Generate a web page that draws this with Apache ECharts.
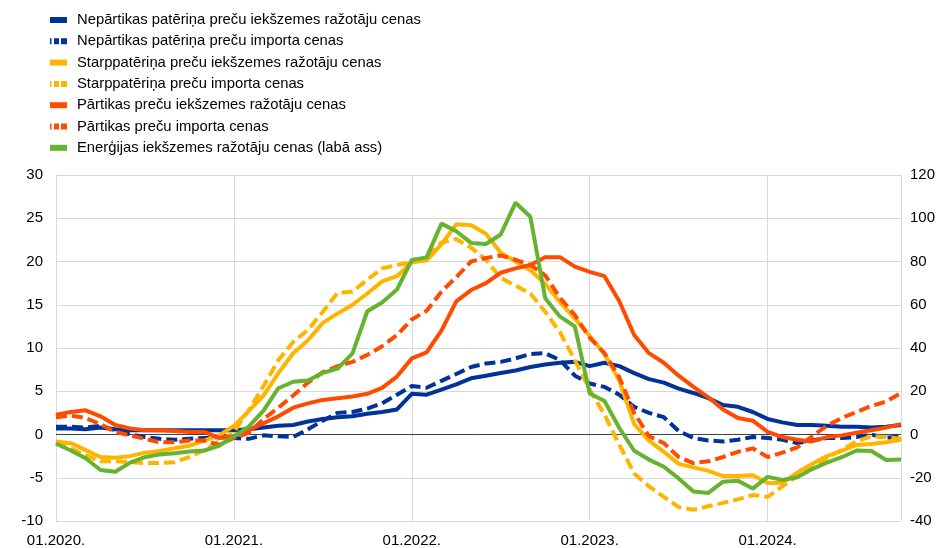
<!DOCTYPE html>
<html>
<head>
<meta charset="utf-8">
<script src="https://cdn.jsdelivr.net/npm/echarts@6/dist/echarts.min.js"></script>
<style>
  html, body { margin: 0; padding: 0; background: #fff; }
  #chart { width: 943px; height: 548px; }
</style>
</head>
<body>
<div id="chart"></div>
<script>
// months 01.2020. .. 10.2024.
const months = [];
for (let y = 2020; y <= 2024; y++) {
  for (let m = 1; m <= 12; m++) {
    if (y === 2024 && m > 10) break;
    months.push(String(m).padStart(2, "0") + "." + y + ".");
  }
}

const leftTicks = { min: -10, max: 30, interval: 5 };
const rightTicks = { min: -40, max: 120, interval: 20 };

// left axis, %
const nonFoodDomestic = [
  0.7, 0.7, 0.6, 0.8, 0.6, 0.5, 0.5, 0.5, 0.5, 0.5, 0.5, 0.5,
  0.5, 0.6, 0.8, 1.0, 1.1, 1.5, 1.8, 2.0, 2.1, 2.4, 2.6, 2.9,
  4.7, 4.6, 5.2, 5.8, 6.5, 6.8, 7.1, 7.4, 7.8, 8.1, 8.3, 8.4,
  7.9, 8.3, 7.9, 7.1, 6.4, 6.0, 5.3, 4.8, 4.2, 3.4, 3.2, 2.6,
  1.8, 1.4, 1.1, 1.1, 1.0, 0.9, 0.9, 0.8, 0.9, 1.1
];
const nonFoodImport = [
  0.9, 0.9, 0.8, 1.0, 0.5, 0.0, -0.3, -0.5, -0.6, -0.5, -0.4, -0.3,
  -0.4, -0.5, -0.1, -0.2, -0.3, 0.6, 1.6, 2.5, 2.6, 3.0, 3.6, 4.6,
  5.6, 5.4, 6.2, 7.0, 7.8, 8.2, 8.4, 8.8, 9.3, 9.4, 8.6, 6.8,
  5.9, 5.5, 4.6, 3.2, 2.5, 2.0, 0.4, -0.4, -0.7, -0.8, -0.6, -0.3,
  -0.4, -0.6, -1.0, -0.7, -0.4, -0.4, -0.3, 0.0, -0.4, -0.2
];
const intermDomestic = [
  -0.8, -1.0, -1.8, -2.6, -2.7, -2.5, -2.1, -1.9, -1.6, -1.3, -0.7, -0.1,
  1.0, 2.7, 4.5, 7.1, 9.4, 10.9, 12.9, 14.0, 15.0, 16.3, 17.7, 18.3,
  19.9, 20.1, 22.0, 24.3, 24.2, 23.2, 21.0, 20.0, 19.0, 17.4, 15.3, 13.4,
  11.4, 9.3, 6.2, 1.2, -0.7, -2.0, -3.4, -3.8, -4.2, -4.8, -4.8, -4.7,
  -5.6, -5.6, -4.4, -3.4, -2.5, -1.9, -1.2, -1.1, -0.9, -0.6
];
const intermImport = [
  -0.9, -1.6, -2.4, -3.1, -3.1, -3.2, -3.3, -3.3, -3.2, -2.6, -1.8, -0.8,
  0.3, 2.8, 5.6, 8.6, 10.7, 12.1, 14.2, 16.4, 16.5, 17.9, 19.2, 19.6,
  19.9, 20.5, 22.2, 22.6, 21.6, 20.2, 18.1, 17.2, 16.3, 14.2, 11.8, 8.6,
  5.2, 2.3, -1.2, -4.5, -6.0, -7.2, -8.4, -8.7, -8.3, -7.9, -7.5, -7.0,
  -7.2, -6.0, -4.8, -3.7, -2.7, -1.8, -0.8, -0.2, -0.3, -0.5
];
const foodDomestic = [
  2.3, 2.6, 2.8, 2.1, 1.1, 0.7, 0.5, 0.5, 0.4, 0.3, 0.3, -0.4,
  -0.2, 0.5, 1.3, 2.1, 3.1, 3.6, 4.0, 4.2, 4.4, 4.7, 5.4, 6.7,
  8.8, 9.5, 12.0, 15.4, 16.7, 17.5, 18.7, 19.2, 19.6, 20.5, 20.5, 19.4,
  18.8, 18.3, 15.4, 11.5, 9.4, 8.3, 6.8, 5.5, 4.3, 2.9, 1.9, 1.6,
  0.3, -0.3, -0.6, -0.8, -0.3, -0.1, 0.2, 0.5, 0.8, 1.2
];
const foodImport = [
  2.0, 2.2, 1.9, 1.2, 0.3, -0.1, -0.5, -0.9, -0.9, -0.7, -0.7, -1.2,
  -0.4, 0.2, 1.8, 3.1, 4.5, 6.0, 7.2, 7.9, 8.4, 9.2, 10.2, 11.5,
  13.3, 14.3, 16.5, 18.2, 20.0, 20.4, 20.7, 20.2, 19.6, 18.4, 15.8, 13.8,
  11.2, 9.4, 6.6, 2.5, -0.2, -1.0, -2.6, -3.3, -3.1, -2.6, -2.0, -1.6,
  -2.6, -2.1, -1.5, -0.2, 1.0, 1.9, 2.6, 3.3, 3.8, 4.8
];
// right axis, %
const energyDomestic = [
  -4.3, -7.4, -11.0, -16.4, -17.2, -13.0, -10.5, -9.2, -8.7, -7.9, -7.4, -5.2,
  -0.8, 3.6, 11.0, 21.4, 24.4, 25.0, 28.5, 30.5, 37.5, 57.0, 61.0, 67.0,
  80.7, 81.9, 97.5, 94.0, 88.6, 88.1, 92.5, 107.2, 100.7, 63.0, 54.5, 50.0,
  19.0, 15.5, 3.0, -7.5, -11.6, -14.9, -20.3, -26.4, -27.0, -21.8, -21.4, -25.0,
  -19.6, -21.0, -19.8, -16.0, -13.0, -10.5, -7.4, -7.6, -11.8, -11.6
];

const BLUE = "#003299";
const YELLOW = "#ffb400";
const ORANGE = "#ff4b00";
const GREEN = "#65b32e";

const SOLID_ICON = "path://M0,0h17v6h-17z";
const DASH_ICON = "path://M0,0h1.5v6h-1.5z M4,0h5v6h-5z M11,0h6v6h-6z";

const seriesDefs = [
  { name: "Nepārtikas patēriņa preču iekšzemes ražotāju cenas", data: nonFoodDomestic, color: BLUE, dashed: false, axis: 0 },
  { name: "Nepārtikas patēriņa preču importa cenas", data: nonFoodImport, color: BLUE, dashed: true, axis: 0 },
  { name: "Starppatēriņa preču iekšzemes ražotāju cenas", data: intermDomestic, color: YELLOW, dashed: false, axis: 0 },
  { name: "Starppatēriņa preču importa cenas", data: intermImport, color: YELLOW, dashed: true, axis: 0 },
  { name: "Pārtikas preču iekšzemes ražotāju cenas", data: foodDomestic, color: ORANGE, dashed: false, axis: 0 },
  { name: "Pārtikas preču importa cenas", data: foodImport, color: ORANGE, dashed: true, axis: 0 },
  { name: "Enerģijas iekšzemes ražotāju cenas (labā ass)", data: energyDomestic, color: GREEN, dashed: false, axis: 1 }
];

const FONT = "Liberation Sans, Arial, sans-serif";
const gridLine = { show: true, lineStyle: { color: "#d9d9d9", width: 1 } };

const chart = echarts.init(document.getElementById("chart"), null, { renderer: "canvas" });

chart.setOption({
  animation: false,
  backgroundColor: "#fff",
  textStyle: { fontFamily: FONT },
  legend: {
    orient: "vertical",
    left: 50,
    top: 12,
    padding: 0,
    itemWidth: 17,
    itemHeight: 6,
    itemGap: 5.3,
    selectedMode: false,
    textStyle: { fontFamily: FONT, fontSize: 14.8, color: "#000", lineHeight: 16, padding: [0, 0, 0, 5] },
    data: seriesDefs.map((s) => ({
      name: s.name,
      icon: s.dashed ? DASH_ICON : SOLID_ICON,
      itemStyle: { color: s.color }
    }))
  },
  grid: { left: 56, right: 42, top: 175, bottom: 27, outerBoundsMode: "none" },
  xAxis: {
    type: "category",
    data: months,
    boundaryGap: false,
    axisLine: { show: false, onZero: false },
    axisTick: { show: false },
    axisLabel: { interval: 11, color: "#000", fontSize: 15, fontFamily: FONT, margin: 12 },
    splitLine: { show: true, interval: 11, lineStyle: { color: "#d9d9d9", width: 1 } }
  },
  yAxis: [
    {
      type: "value",
      position: "left",
      ...leftTicks,
      axisLine: { show: true, lineStyle: { color: "#d9d9d9" } },
      axisTick: { show: false },
      axisLabel: { color: "#000", fontSize: 15, fontFamily: FONT, margin: 13 },
      splitLine: gridLine
    },
    {
      type: "value",
      position: "right",
      ...rightTicks,
      axisLine: { show: true, lineStyle: { color: "#d9d9d9" } },
      axisTick: { show: false },
      axisLabel: { color: "#000", fontSize: 15, fontFamily: FONT, margin: 9 },
      splitLine: { show: false }
    }
  ],
  series: seriesDefs.map((s, i) => {
    const item = {
      name: s.name,
      type: "line",
      yAxisIndex: s.axis,
      data: s.data,
      symbol: "none",
      smooth: false,
      color: s.color,
      lineStyle: { color: s.color, width: 4, type: s.dashed ? [11, 5] : "solid" },
      emphasis: { disabled: true }
    };
    if (i === 0) {
      item.markLine = {
        silent: true,
        symbol: "none",
        label: { show: false },
        lineStyle: { color: "#404040", width: 1, type: "solid" },
        data: [{ yAxis: 0 }],
        z: 1
      };
    }
    return item;
  })
});
</script>
</body>
</html>
